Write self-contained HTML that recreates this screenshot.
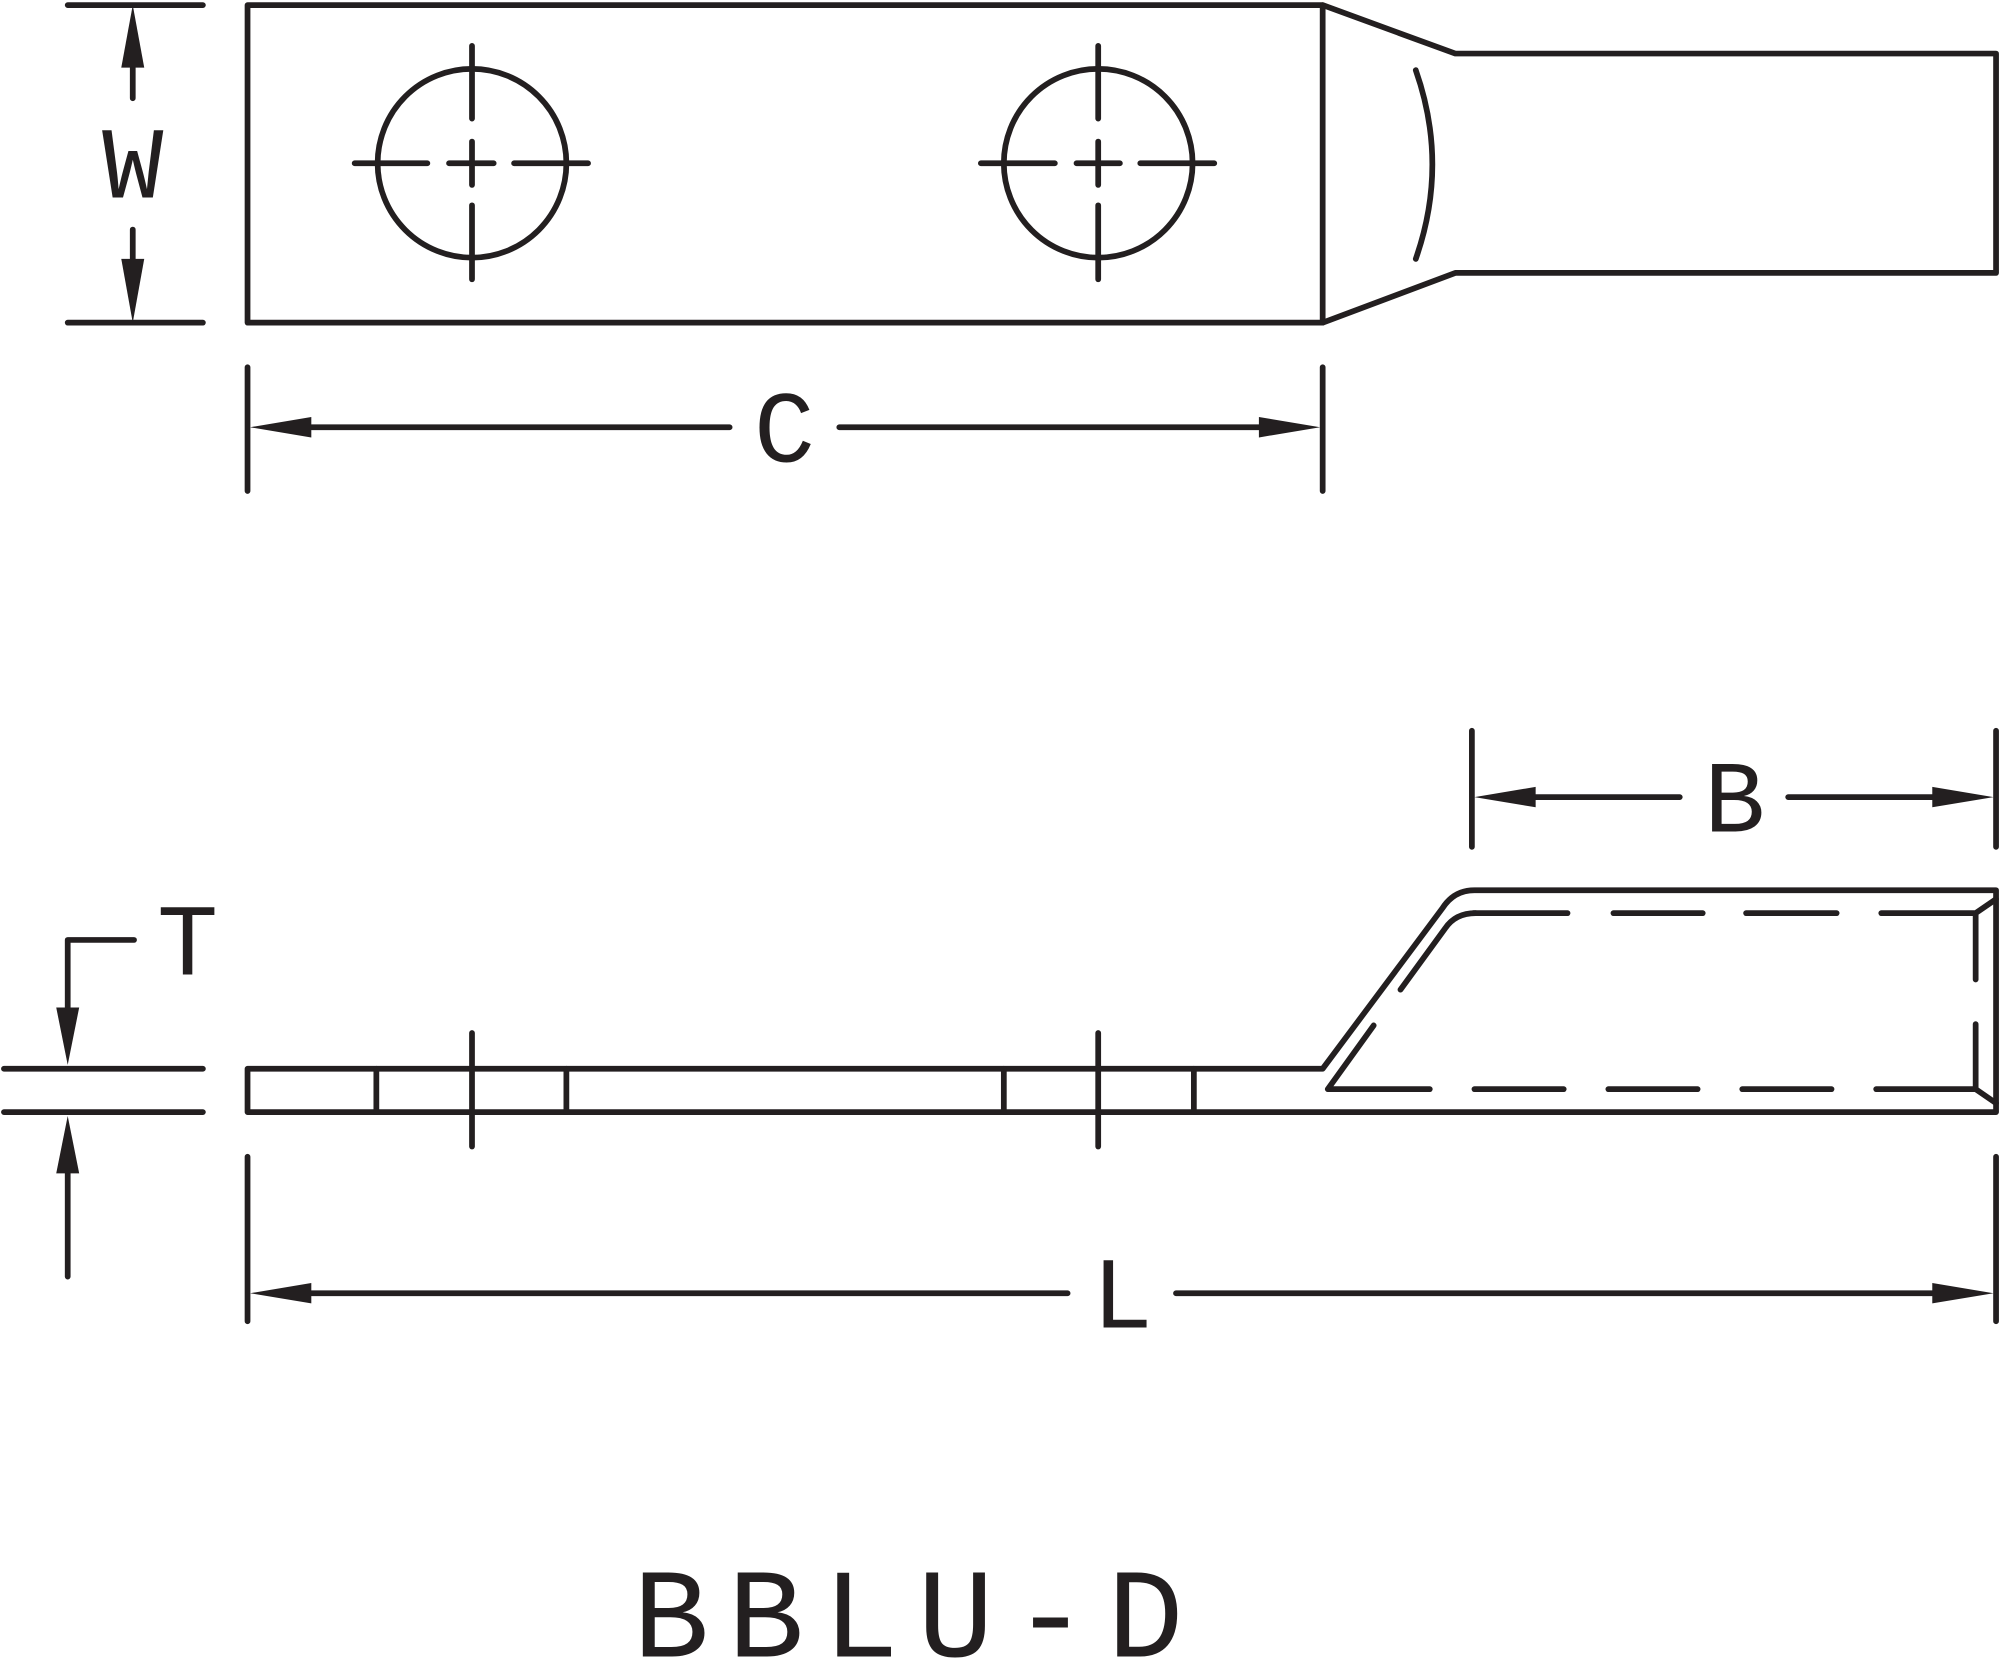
<!DOCTYPE html>
<html><head><meta charset="utf-8"><style>
html,body{margin:0;padding:0;background:#fff;}
svg{display:block}
</style></head><body>
<svg width="2000" height="1672" viewBox="0 0 1568 1311" xmlns="http://www.w3.org/2000/svg">
<g fill="none" stroke="#231f20" stroke-width="4.5" stroke-linecap="round" stroke-linejoin="round">
<rect x="194" y="4" width="843" height="249"/>
<path d="M1037 4 L1141 42 L1565 42 L1565 214 L1141 214 L1037 253"/>
<path d="M1110 55 Q1136 129 1110 203"/>
<circle cx="370" cy="128" r="74"/>
<circle cx="861" cy="128" r="74"/>
<path d="M370 36V93 M370 111V145 M370 161V219 M278 128H335 M352 128H387 M403 128H461"/>
<path d="M861 36V93 M861 111V145 M861 161V219 M769 128H827 M844 128H878 M894 128H952"/>
<path d="M53 4H159 M53 253H159 M104 53V77 M104 180V203"/>
<path d="M194 288V385 M1037 288V385 M244 335H572 M658 335H987"/>
<path d="M1154 573V664 M1565 573V664 M1204 625H1317 M1402 625H1515"/>
<path d="M194 838H1037 L1131 712 Q1140 698 1156 698 H1565 V872 H194 Z"/>
<path d="M295 838V872 M444 838V872 M787 838V872 M936 838V872"/>
<path d="M370 810V899 M861 810V899"/>
<path d="M1098 776 L1133 728 Q1141 716 1157 716"/>
<path d="M1155 716H1229 M1265 716H1335 M1369 716H1440 M1475 716H1549 L1565 705 M1549 716V768"/>
<path d="M1077 804 L1041 854 H1121 M1156 854H1226 M1261 854H1331 M1366 854H1436 M1471 854H1549 L1565 865 M1549 803V854"/>
<path d="M3 838H159 M3 872H159 M105 737H53V790 M53 920V1001"/>
<path d="M194 907V1036 M1565 907V1036 M244 1014H837 M922 1014H1515"/>
</g>
<g fill="#231f20">
<polygon points="104,4 95,53 113,53"/>
<polygon points="104,253 95,203 113,203"/>
<polygon points="196,335 244,327 244,343"/>
<polygon points="1035,335 987,327 987,343"/>
<polygon points="1156,625 1204,617 1204,633"/>
<polygon points="1563,625 1515,617 1515,633"/>
<polygon points="53,835 44,790 62,790"/>
<polygon points="53,875 44,920 62,920"/>
<polygon points="196,1014 244,1006 244,1022"/>
<polygon points="1563,1014 1515,1006 1515,1022"/>
</g>
<g font-family="Liberation Mono, monospace" fill="#231f20" text-anchor="middle">
<text x="104" y="155" font-size="80">W</text>
<text x="615" y="362" font-size="80">C</text>
<text x="1360" y="652" font-size="80">B</text>
<text x="147" y="764" font-size="80">T</text>
<text x="880" y="1041" font-size="80">L</text>
<text x="712" y="1299" font-size="100" textLength="432" lengthAdjust="spacing">BBLU-D</text>
</g>
</svg>
</body></html>
